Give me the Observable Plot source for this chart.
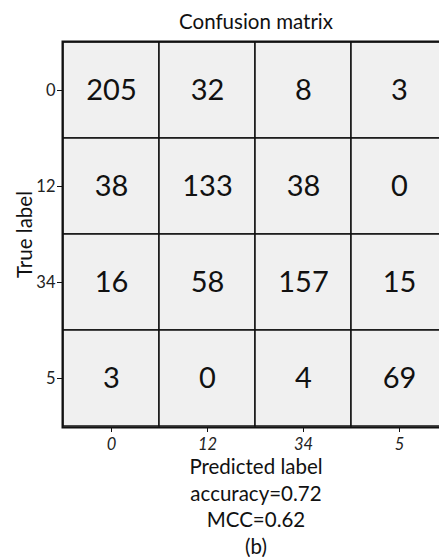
<!DOCTYPE html>
<html>
<head>
<meta charset="utf-8">
<script src="https://cdn.jsdelivr.net/npm/d3@7"></script>
<script src="https://cdn.jsdelivr.net/npm/@observablehq/plot@0.6"></script>
<style>
  html, body { margin: 0; padding: 0; background: #fff; }
  body { position: relative; width: 439px; height: 557px; overflow: hidden; font-family: Lato, "Noto Sans", sans-serif; color: #111; }
  #chart { position: absolute; left: 0; top: 0; }
  .t { position: absolute; left: 62px; width: 388px; text-align: center; white-space: nowrap; }
</style>
</head>
<body>
<div id="chart"></div>
<div class="t" id="title" style="top:9px;font-size:20.5px;line-height:24.6px;"></div>
<div class="t" id="cap" style="top:453px;font-size:20.5px;line-height:26.5px;"></div>
<script>
const labels = ["0", "12", "34", "5"];
const trueRow0 = [205, 32, 8, 3];
const trueRow12 = [38, 133, 38, 0];
const trueRow34 = [16, 58, 157, 15];
const trueRow5 = [3, 0, 4, 69];
const rows = [trueRow0, trueRow12, trueRow34, trueRow5];
const title = "Confusion matrix";
const xLabel = "Predicted label";
const yLabel = "True label";
const captionLines = [xLabel, "accuracy=0.72", "MCC=0.62", "(b)"];

const cells = [];
rows.forEach((r, i) => r.forEach((v, j) => cells.push({t: labels[i], p: labels[j], v})));

const W = 439, H = 460;
const plot = Plot.plot({
  width: W,
  height: H,
  marginLeft: 62,
  marginRight: -9,
  marginTop: 41,
  marginBottom: 33,
  style: {fontFamily: "Lato, 'Noto Sans', sans-serif", color: "#111", background: "#fff", overflow: "visible"},
  x: {type: "band", domain: labels, range: [62, 448], padding: 0, label: null},
  y: {type: "band", domain: labels, range: [41, 427], padding: 0, label: null},
  marks: [
    Plot.cell(cells, {x: "p", y: "t", fill: "#f0f0f0", stroke: "#111", strokeWidth: 1.5}),
    Plot.text(cells, {x: "p", y: "t", text: d => String(d.v), fontSize: 29, fill: "#111"}),
    Plot.frame({stroke: "#111", strokeWidth: 2}),
    Plot.axisY({tickSize: 5, tickFormat: () => "", label: null}),
    Plot.axisX({tickSize: 5, tickFormat: () => "", label: null}),
    Plot.text(labels, {y: d => d, frameAnchor: "left", textAnchor: "end", dx: -7, fontSize: 16.5, fill: "#222"}),
    Plot.text(labels, {x: d => d, frameAnchor: "bottom", lineAnchor: "middle", dy: 17, fontSize: 16.5, fontStyle: "italic", fill: "#222"}),
    Plot.text([yLabel], {frameAnchor: "left", textAnchor: "middle", dx: -37, rotate: -90, fontSize: 20.5, fill: "#111"})
  ]
});
document.getElementById("chart").appendChild(plot);
document.getElementById("title").textContent = title;
const cap = document.getElementById("cap");
captionLines.forEach(s => { const d = document.createElement("div"); d.textContent = s; cap.appendChild(d); });
</script>
</body>
</html>
